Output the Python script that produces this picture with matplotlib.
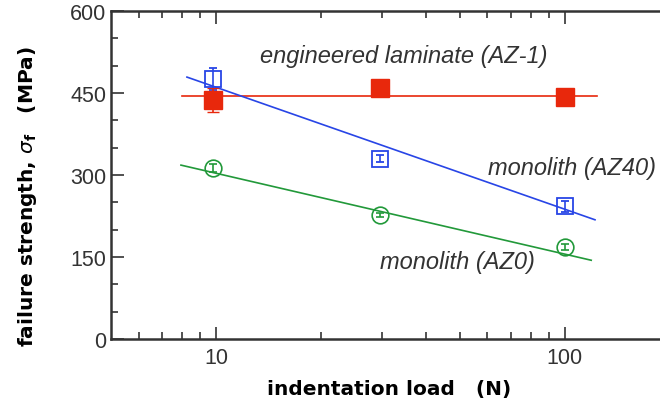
import matplotlib.pyplot as plt
from matplotlib.ticker import FixedLocator, NullFormatter

plt.rcParams['font.family'] = ['Liberation Sans', 'DejaVu Sans']

# indentation load (N)
load = [9.8, 29.5, 100]

# failure strength (MPa)
az1 = [437, 459, 442]
az1_err = [22, 5, 5]
az40 = [475, 330, 243]
az40_err = [20, 6, 10]
az0 = [313, 227, 168]
az0_err = [7, 4, 5]

# fitted lines (end points)
az1_fit_x = [8.0, 124]
az1_fit_y = [444, 444]
az40_fit_x = [8.26, 122]
az40_fit_y = [479, 218]
az0_fit_x = [7.94, 119]
az0_fit_y = [318, 144]

red = '#e8280c'
blue = '#2845e6'
green = '#22993a'
txt = '#333333'

fig = plt.figure(figsize=(6.6, 4.06), dpi=100)
ax = fig.add_axes([0.168, 0.1626, 0.847, 0.808])

ax.plot(az1_fit_x, az1_fit_y, color=red, lw=1.2)
ax.plot(az40_fit_x, az40_fit_y, color=blue, lw=1.2)
ax.plot(az0_fit_x, az0_fit_y, color=green, lw=1.2)

ax.errorbar(load, az40, yerr=az40_err, fmt='s', ms=12, mfc='none', mec=blue,
            mew=1.3, ecolor=blue, elinewidth=1.2, capsize=3)
ax.errorbar(load, az0, yerr=az0_err, fmt='o', ms=12, mfc='none', mec=green,
            mew=1.2, ecolor=green, elinewidth=1.2, capsize=3)
ax.errorbar(load, az1, yerr=az1_err, fmt='s', ms=13, mfc=red, mec=red,
            ecolor=red, elinewidth=1.2, capsize=4)

ax.set_xscale('log')
ax.set_xlim(5, 200)
ax.set_ylim(0, 600)

ax.xaxis.set_major_locator(FixedLocator([10, 100]))
ax.xaxis.set_minor_locator(FixedLocator([6, 7, 8, 9, 20, 30, 40, 50, 60, 70, 80, 90]))
ax.xaxis.set_minor_formatter(NullFormatter())
ax.set_xticklabels(['10', '100'])
ax.set_yticks([0, 150, 300, 450, 600])
ax.set_yticks(range(0, 601, 50), minor=True)

ax.tick_params(which='both', direction='in', colors=txt, labelsize=15.5,
               top=True, right=False, width=1.2)
ax.tick_params(which='major', length=9)
ax.tick_params(which='minor', length=5)
ax.tick_params(axis='x', pad=6)

for side in ['left', 'bottom', 'top']:
    ax.spines[side].set_linewidth(1.8)
    ax.spines[side].set_color(txt)
ax.spines['right'].set_visible(False)

ax.text(13.4, 519, 'engineered laminate (AZ-1)', style='italic', fontsize=17,
        color=txt, va='center')
ax.text(60.1, 314, 'monolith (AZ40)', style='italic', fontsize=17,
        color=txt, va='center')
ax.text(29.5, 141, 'monolith (AZ0)', style='italic', fontsize=17,
        color=txt, va='center')

fig.text(0.589, 0.04, 'indentation load   (N)', fontsize=14.5, fontweight='bold',
         family='DejaVu Sans', ha='center', va='center')
fig.text(0.042, 0.517, r'failure strength, $\sigma_\mathregular{f}$   (MPa)',
         fontsize=14.5, fontweight='bold', family='DejaVu Sans', rotation=90,
         ha='center', va='center')

fig.savefig('out.png', dpi=100)
